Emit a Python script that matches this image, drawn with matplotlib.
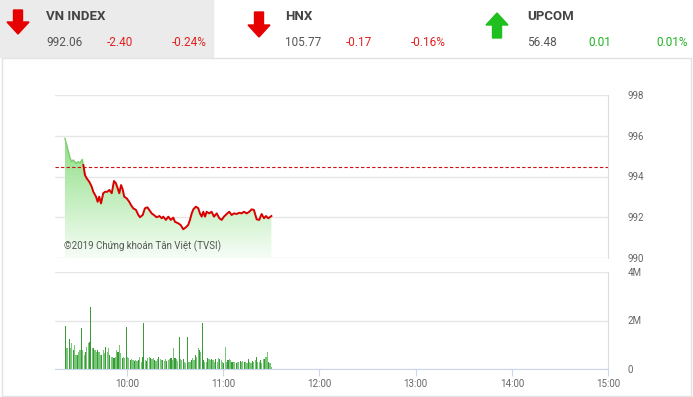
import numpy as np
import matplotlib
matplotlib.use("Agg")
import matplotlib.pyplot as plt
from matplotlib.patches import Rectangle, Polygon

plt.rcParams['font.family'] = ['Roboto', 'DejaVu Sans']

# Header quotes
idx_names = ["VN INDEX", "HNX", "UPCOM"]
idx_values = ["992.06", "105.77", "56.48"]
idx_change = ["-2.40", "-0.17", "0.01"]
idx_pct = ["-0.24%", "-0.16%", "0.01%"]

# Intraday index (minutes since 9:15)
ref_price = 994.46
price_t = [6.2, 9.4, 10.4, 11.4, 13.1, 14.5, 15.6, 17.0, 17.7, 18.7, 19.8, 21.4, 22.9,
           23.9, 25.6, 26.6, 27.6, 28.7, 30.1, 31.2, 32.6, 33.9, 35.4, 36.8, 38.0,
           39.1, 40.1, 41.2, 42.2, 43.2, 44.7, 46.3, 47.4, 48.8, 50.5, 52.0, 53.0,
           54.7, 56.1, 57.6, 58.8, 60.3, 61.7, 63.4, 65.1, 66.6, 67.5, 69.2, 70.7,
           72.2, 73.8, 74.8, 76.9, 78.4, 80.0, 81.7, 83.1, 84.2, 85.3, 86.3, 87.9,
           89.4, 90.4, 91.5, 92.5, 93.6, 94.6, 96.2, 97.7, 99.2, 100.9, 102.5, 104.0,
           105.4, 107.1, 108.7, 110.2, 111.6, 113.3, 115.0, 116.4, 117.9, 119.6,
           121.2, 122.7, 124.1, 125.8, 127.4, 128.9, 130.4, 131.6, 133.0, 134.5, 135.0]
price_v = [995.87, 994.91, 994.73, 994.81, 994.65, 994.73, 994.66, 994.84, 994.56,
           994.07, 993.91, 993.74, 993.50, 993.25, 993.01, 992.76, 993.01, 992.68,
           993.18, 993.25, 993.25, 993.34, 993.18, 993.78, 993.67, 993.42, 993.18,
           993.58, 993.37, 993.01, 992.93, 992.76, 992.60, 992.44, 992.36, 992.11,
           992.00, 992.11, 992.44, 992.49, 992.36, 992.19, 992.11, 992.00, 992.06,
           991.95, 992.03, 991.87, 992.03, 991.87, 991.98, 991.78, 991.70, 991.62,
           991.41, 991.51, 991.62, 991.87, 992.19, 992.39, 992.52, 992.44, 992.19,
           992.03, 992.27, 992.03, 992.27, 992.19, 992.27, 992.03, 992.19, 991.95,
           991.87, 992.03, 992.16, 992.27, 992.11, 992.19, 992.16, 992.22, 992.19,
           992.27, 992.19, 992.27, 992.39, 992.36, 991.90, 991.87, 992.16, 991.95,
           992.06, 991.95, 992.03, 992.06]

# Volume bars (millions)
vol_start, vol_end = 6.3, 135.0
vol_m = [1.77, 0.85, 0.85, 1.22, 0.85, 1.06, 0.78, 0.99, 0.58, 0.58, 0.71, 0.78, 1.68,
         0.78, 0.58, 0.71, 0.92, 1.06, 1.13, 2.54, 0.85, 0.85, 0.78, 0.71, 0.78, 0.71,
         0.58, 0.58, 0.78, 0.64, 0.92, 0.71, 0.85, 0.58, 0.51, 0.51, 0.44, 0.51, 0.78,
         0.71, 0.99, 0.67, 0.44, 0.51, 0.44, 1.72, 0.51, 0.44, 0.37, 0.40, 0.37, 0.34,
         0.37, 0.34, 0.37, 0.51, 0.30, 0.48, 1.91, 0.37, 0.34, 0.44, 0.48, 0.44, 0.40,
         0.44, 0.37, 0.34, 0.40, 0.48, 0.42, 0.37, 0.37, 0.34, 0.40, 0.34, 0.37, 0.40,
         0.44, 0.37, 0.85, 0.44, 0.40, 0.34, 1.31, 0.40, 0.37, 0.40, 0.30, 0.26, 1.33,
         0.30, 0.30, 0.37, 0.44, 0.37, 0.58, 0.51, 0.85, 0.78, 0.71, 1.88, 0.37, 0.30,
         0.30, 0.44, 0.40, 0.37, 0.40, 0.37, 0.30, 0.40, 0.30, 0.44, 0.40, 0.37, 0.30,
         0.26, 0.89, 0.30, 0.37, 0.40, 0.37, 0.30, 0.30, 0.30, 0.26, 0.30, 0.30, 0.34,
         0.30, 0.34, 0.30, 0.30, 0.26, 0.40, 0.30, 0.26, 0.34, 0.30, 0.37, 0.48, 0.30,
         0.30, 0.37, 0.26, 0.40, 0.40, 0.51, 0.71, 0.30, 0.23, 0.07]

hour_ticks = [45, 105, 165, 225, 285, 345]
hour_labels = ["10:00", "11:00", "12:00", "13:00", "14:00", "15:00"]

W, H = 693, 397
fig = plt.figure(figsize=(W / 100, H / 100), dpi=100)

def fx(px):
    return px / W

def fy(py):
    return 1 - py / H

# header background + frame
fig.patches.append(Rectangle((0, fy(57)), fx(213), 57 / H, transform=fig.transFigure,
                             color="#ebebeb", zorder=0))
fig.patches.append(Rectangle((fx(2), fy(396)), fx(689), 338 / H, transform=fig.transFigure,
                             fill=False, ec="#e3e3e3", lw=1, zorder=0))

def arrow(cx, top, bot, up, col):
    sw, hw, hl = 4.5, 11, 12
    if up:
        pts = [(cx, top), (cx + hw, top + hl), (cx + sw, top + hl), (cx + sw, bot),
               (cx - sw, bot), (cx - sw, top + hl), (cx - hw, top + hl)]
    else:
        pts = [(cx, bot), (cx + hw, bot - hl), (cx + sw, bot - hl), (cx + sw, top),
               (cx - sw, top), (cx - sw, bot - hl), (cx - hw, bot - hl)]
    fig.patches.append(Polygon([(fx(a), fy(b)) for a, b in pts], closed=True,
                               transform=fig.transFigure, color=col, zorder=2))

arrow(18, 10, 34, False, "#e60000")
arrow(259, 12, 37, False, "#e60000")
arrow(497, 13, 38, True, "#1fbf1f")

name_x = [46, 285, 527]
for i in range(3):
    x0 = name_x[i]
    col = "#e02020" if idx_change[i].startswith("-") else "#1fb21f"
    fig.text(fx(x0), fy(17), idx_names[i], fontsize=9.5, fontweight="bold",
             color="#444444", va="center")
    fig.text(fx(x0), fy(42), idx_values[i], fontsize=8.5, color="#555555", va="center")
    fig.text(fx(x0 + 61), fy(42), idx_change[i], fontsize=8.5, color=col, va="center")
    fig.text(fx(x0 + 161), fy(42), idx_pct[i], fontsize=8.5, color=col, va="center",
             ha="right")

grid_c = "#e6e6e6"
lab_c = "#666666"

# price panel
axp = fig.add_axes([fx(55), fy(258), fx(553), 163 / H])
t = np.array(price_t)
v = np.array(price_v)
axp.set_xlim(0, 345)
axp.set_ylim(990, 998)
poly = axp.fill_between(t, v, 990, color="none", lw=0)
grad = np.linspace(0, 1, 256).reshape(-1, 1)
top_c = np.array([140, 222, 130]) / 255
bot_c = np.array([246, 253, 246]) / 255
img = (top_c[None, None, :] * grad[..., None] + bot_c[None, None, :] * (1 - grad[..., None]))
im = axp.imshow(img, extent=[t[0], t[-1], 990, 996], origin="lower", aspect="auto",
                zorder=1)
im.set_clip_path(poly.get_paths()[0], transform=axp.transData)

split = int(np.argmax(v < ref_price))
axp.plot(t[:split + 1], v[:split + 1], color="#7ccc6c", lw=1.0, zorder=3)
axp.plot(t[split - 1:], v[split - 1:], color="#d90000", lw=1.4, zorder=3)
axp.axhline(ref_price, color="#cc1111", lw=0.8, ls=(0, (3, 2)), zorder=2)

axp.set_yticks([990, 992, 994, 996, 998])
axp.grid(axis="y", color=grid_c, lw=1)
axp.set_axisbelow(True)
axp.yaxis.tick_right()
axp.tick_params(axis="y", length=0, pad=14, labelsize=7, labelcolor=lab_c)
axp.set_xticks([])
for s in ["top", "left", "bottom"]:
    axp.spines[s].set_visible(False)
axp.spines["right"].set_color("#d8dde6")
axp.text(5.6, 990.4, "©2019 Chứng khoán Tân Việt (TVSI)", fontsize=7, color="#555555",
         zorder=4)

# volume panel
axv = fig.add_axes([fx(55), fy(369), fx(553), 97 / H])
vt = np.linspace(vol_start, vol_end, len(vol_m))
colors = ["#3a9a3a" if (i % 3 == 0 or vol_m[i] > 1.2) else "#79c879" for i in range(len(vol_m))]
axv.bar(vt, vol_m, width=0.7, color=colors, lw=0)
axv.set_xlim(0, 345)
axv.set_ylim(0, 4)
axv.set_yticks([0, 2, 4])
axv.set_yticklabels(["0", "2M", "4M"])
axv.grid(axis="y", color=grid_c, lw=1)
axv.set_axisbelow(True)
axv.yaxis.tick_right()
axv.tick_params(axis="y", length=0, pad=14, labelsize=7, labelcolor=lab_c)
axv.set_xticks(hour_ticks)
axv.set_xticklabels(hour_labels)
axv.tick_params(axis="x", length=5, color="#ccd6eb", labelsize=7, labelcolor=lab_c, pad=2)
for s in ["top", "left"]:
    axv.spines[s].set_visible(False)
axv.spines["right"].set_color("#d8dde6")
axv.spines["bottom"].set_color("#ccd6eb")

fig.savefig("out.png", dpi=100)
